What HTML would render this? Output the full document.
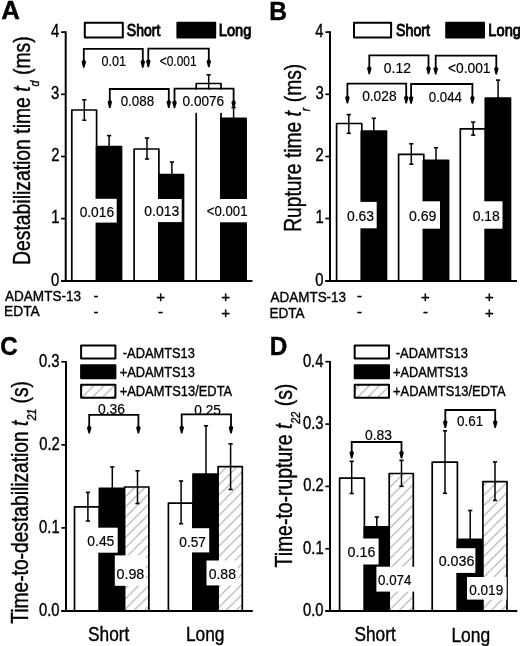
<!DOCTYPE html>
<html><head><meta charset="utf-8"><style>html,body{margin:0;padding:0;background:#fff;width:520px;height:646px;overflow:hidden}svg{display:block;filter:grayscale(1)}</style></head>
<body><svg width="520" height="646" viewBox="0 0 520 646">
<defs><pattern id="hatch" patternUnits="userSpaceOnUse" width="10.2" height="10.2"><rect width="10.2" height="10.2" fill="#fff"/><path d="M-1,11.2 L11.2,-1 M-1,1 L1,-1 M9.2,11.2 L11.2,9.2" stroke="#a4a4a4" stroke-width="1"/></pattern></defs>
<rect width="520" height="646" fill="#fff"/>
<g font-family="Liberation Sans, sans-serif" stroke="#000" stroke-width="0.4">
<text transform="translate(1.35,19) scale(1.030,1)" font-size="25.07" font-weight="bold" fill="#000" >A</text>
<rect x="71.8" y="110" width="24.8" height="170.9" fill="#fff" stroke="#000" stroke-width="1.7" stroke-linejoin="round"/>
<rect x="96.6" y="146.6" width="24.9" height="134.3" fill="#000" stroke="#000" stroke-width="1.7" stroke-linejoin="round"/>
<rect x="134.1" y="149" width="24.8" height="131.9" fill="#fff" stroke="#000" stroke-width="1.7" stroke-linejoin="round"/>
<rect x="158.9" y="174.6" width="24.6" height="106.3" fill="#000" stroke="#000" stroke-width="1.7" stroke-linejoin="round"/>
<rect x="196.2" y="83.5" width="24.8" height="197.4" fill="#fff" stroke="#000" stroke-width="1.7" stroke-linejoin="round"/>
<rect x="221" y="118.4" width="25.1" height="162.5" fill="#000" stroke="#000" stroke-width="1.7" stroke-linejoin="round"/>
<line x1="84.3" y1="99.8" x2="84.3" y2="120.2" stroke="#000" stroke-width="1.5"/>
<line x1="82.2" y1="99.8" x2="86.4" y2="99.8" stroke="#000" stroke-width="1.6"/>
<line x1="82.2" y1="120.2" x2="86.4" y2="120.2" stroke="#000" stroke-width="1.6"/>
<line x1="109.1" y1="135.6" x2="109.1" y2="157" stroke="#000" stroke-width="1.5"/>
<line x1="107" y1="135.6" x2="111.2" y2="135.6" stroke="#000" stroke-width="1.6"/>
<line x1="107" y1="157" x2="111.2" y2="157" stroke="#000" stroke-width="1.6"/>
<line x1="147" y1="138" x2="147" y2="159" stroke="#000" stroke-width="1.5"/>
<line x1="144.9" y1="138" x2="149.1" y2="138" stroke="#000" stroke-width="1.6"/>
<line x1="144.9" y1="159" x2="149.1" y2="159" stroke="#000" stroke-width="1.6"/>
<line x1="171.9" y1="162" x2="171.9" y2="186" stroke="#000" stroke-width="1.5"/>
<line x1="169.8" y1="162" x2="174" y2="162" stroke="#000" stroke-width="1.6"/>
<line x1="169.8" y1="186" x2="174" y2="186" stroke="#000" stroke-width="1.6"/>
<line x1="208.7" y1="74.8" x2="208.7" y2="92" stroke="#000" stroke-width="1.5"/>
<line x1="206.6" y1="74.8" x2="210.8" y2="74.8" stroke="#000" stroke-width="1.6"/>
<line x1="206.6" y1="92" x2="210.8" y2="92" stroke="#000" stroke-width="1.6"/>
<line x1="233.6" y1="107.5" x2="233.6" y2="130" stroke="#000" stroke-width="1.5"/>
<line x1="231.5" y1="107.5" x2="235.7" y2="107.5" stroke="#000" stroke-width="1.6"/>
<line x1="231.5" y1="130" x2="235.7" y2="130" stroke="#000" stroke-width="1.6"/>
<rect x="95" y="198.8" width="21.7" height="23.8" fill="#fff" stroke="none"/>
<text transform="translate(79.65,216.8) scale(0.917,1)" font-size="15.00" font-weight="normal" fill="#000" stroke-width="0.2">0.016</text>
<rect x="157.7" y="199" width="24" height="23.1" fill="#fff" stroke="none"/>
<text transform="translate(144.24,216.1) scale(0.931,1)" font-size="15.00" font-weight="normal" fill="#000" stroke-width="0.2">0.013</text>
<rect x="219.8" y="199" width="28.2" height="23.3" fill="#fff" stroke="none"/>
<text transform="translate(206.84,216.3) scale(0.878,1)" font-size="15.00" font-weight="normal" fill="#000" stroke-width="0.2">&lt;0.001</text>
<path d="M83.8,63.7 L83.8,48.9 L142.8,48.9 L142.8,63.7" fill="none" stroke="#000" stroke-width="1.8"/>
<path d="M83.8,59.3 L86.1,61.5 L84.5,67.7 L83.1,67.7 L81.5,61.5 Z" fill="#000" stroke="none"/>
<path d="M142.8,59.3 L145.1,61.5 L143.5,67.7 L142.1,67.7 L140.5,61.5 Z" fill="#000" stroke="none"/>
<text transform="translate(101.5,65.7) scale(0.839,1)" font-size="15.00" font-weight="normal" fill="#000" stroke-width="0.2">0.01</text>
<path d="M148.3,63.2 L148.3,48.7 L208.8,48.7 L208.8,63.2" fill="none" stroke="#000" stroke-width="1.8"/>
<path d="M148.3,58.8 L150.6,61 L149,67.2 L147.6,67.2 L146,61 Z" fill="#000" stroke="none"/>
<path d="M208.8,58.8 L211.1,61 L209.5,67.2 L208.1,67.2 L206.5,61 Z" fill="#000" stroke="none"/>
<text transform="translate(159.7,65.8) scale(0.798,1)" font-size="15.00" font-weight="normal" fill="#000" stroke-width="0.2">&lt;0.001</text>
<path d="M109.8,103.9 L109.8,89 L168.8,89 L168.8,103.9" fill="none" stroke="#000" stroke-width="1.8"/>
<path d="M109.8,99.5 L112.1,101.7 L110.5,107.9 L109.1,107.9 L107.5,101.7 Z" fill="#000" stroke="none"/>
<path d="M168.8,99.5 L171.1,101.7 L169.5,107.9 L168.1,107.9 L166.5,101.7 Z" fill="#000" stroke="none"/>
<text transform="translate(120.67,106.4) scale(0.890,1)" font-size="15.00" font-weight="normal" fill="#000" stroke-width="0.2">0.088</text>
<rect x="180" y="89.6" width="47" height="23.3" fill="#fff" stroke="none"/>
<path d="M174.5,104.2 L174.5,88.7 L233.6,88.7 L233.6,104.2" fill="none" stroke="#000" stroke-width="1.8"/>
<path d="M174.5,99.8 L176.8,102 L175.2,108.2 L173.8,108.2 L172.2,102 Z" fill="#000" stroke="none"/>
<path d="M233.6,99.8 L235.9,102 L234.3,108.2 L232.9,108.2 L231.3,102 Z" fill="#000" stroke="none"/>
<text transform="translate(182.56,106.3) scale(0.906,1)" font-size="15.00" font-weight="normal" fill="#000" stroke-width="0.2">0.0076</text>
<rect x="84.8" y="22.7" width="38" height="14.9" fill="#fff" stroke="#000" stroke-width="2" stroke-linejoin="round"/>
<text transform="translate(126.87,36.26) scale(0.849,1)" font-size="16.50" font-weight="normal" fill="#000" stroke-width="0.9">Short</text>
<rect x="177.4" y="22.7" width="37.8" height="14.9" fill="#000" stroke="#000" stroke-width="2" stroke-linejoin="round"/>
<text transform="translate(218.73,35.88) scale(0.889,1)" font-size="16.50" font-weight="normal" fill="#000" stroke-width="0.9">Long</text>
<line x1="65.7" y1="31.3" x2="65.7" y2="281.9" stroke="#000" stroke-width="2"/>
<line x1="61.1" y1="280.9" x2="252.5" y2="280.9" stroke="#000" stroke-width="2"/>
<line x1="61.1" y1="280.9" x2="65.7" y2="280.9" stroke="#000" stroke-width="1.7"/>
<text transform="translate(51.01,285.77) scale(0.840,1)" font-size="17.60" font-weight="normal" fill="#000" >0</text>
<line x1="61.1" y1="218.6" x2="65.7" y2="218.6" stroke="#000" stroke-width="1.7"/>
<text transform="translate(51.16,223.47) scale(0.840,1)" font-size="17.60" font-weight="normal" fill="#000" >1</text>
<line x1="61.1" y1="156.5" x2="65.7" y2="156.5" stroke="#000" stroke-width="1.7"/>
<text transform="translate(51.23,161.46) scale(0.840,1)" font-size="17.60" font-weight="normal" fill="#000" >2</text>
<line x1="61.1" y1="94.3" x2="65.7" y2="94.3" stroke="#000" stroke-width="1.7"/>
<text transform="translate(51.09,99.17) scale(0.840,1)" font-size="17.60" font-weight="normal" fill="#000" >3</text>
<line x1="61.1" y1="32.1" x2="65.7" y2="32.1" stroke="#000" stroke-width="1.7"/>
<text transform="translate(50.94,36.97) scale(0.840,1)" font-size="17.60" font-weight="normal" fill="#000" >4</text>
<text transform="translate(5,301.3) scale(0.904,1)" font-size="15.00" font-weight="normal" fill="#000" >ADAMTS-13</text>
<text transform="translate(4.1,316.15) scale(0.919,1)" font-size="15.00" font-weight="normal" fill="#000" >EDTA</text>
<text transform="translate(93.59,301.07) scale(1.000,1)" font-size="15.00" font-weight="normal" fill="#000" >-</text>
<text transform="translate(93.59,316.97) scale(1.000,1)" font-size="15.00" font-weight="normal" fill="#000" >-</text>
<text transform="translate(156.21,302.12) scale(1.000,1)" font-size="15.00" font-weight="normal" fill="#000" >+</text>
<text transform="translate(158.09,316.97) scale(1.000,1)" font-size="15.00" font-weight="normal" fill="#000" >-</text>
<text transform="translate(221.21,302.12) scale(1.000,1)" font-size="15.00" font-weight="normal" fill="#000" >+</text>
<text transform="translate(221.21,318.02) scale(1.000,1)" font-size="15.00" font-weight="normal" fill="#000" >+</text>
<text transform="translate(29.6,265) rotate(-90) scale(0.8245,1)" font-size="23.5">Destabilization time <tspan font-style="italic">t</tspan><tspan font-size="13" dy="9" font-style="italic">d</tspan><tspan dy="-9"> (ms)</tspan></text>
<text transform="translate(269.2,19.6) scale(0.964,1)" font-size="25.51" font-weight="bold" fill="#000" >B</text>
<rect x="336.6" y="123.5" width="25.2" height="157.4" fill="#fff" stroke="#000" stroke-width="1.7" stroke-linejoin="round"/>
<rect x="361.3" y="131" width="25.2" height="149.9" fill="#000" stroke="#000" stroke-width="1.7" stroke-linejoin="round"/>
<rect x="398.6" y="154.3" width="25.2" height="126.6" fill="#fff" stroke="#000" stroke-width="1.7" stroke-linejoin="round"/>
<rect x="423.4" y="160.3" width="25.2" height="120.6" fill="#000" stroke="#000" stroke-width="1.7" stroke-linejoin="round"/>
<rect x="460.3" y="128.9" width="25.2" height="152" fill="#fff" stroke="#000" stroke-width="1.7" stroke-linejoin="round"/>
<rect x="485.3" y="98" width="25.2" height="182.9" fill="#000" stroke="#000" stroke-width="1.7" stroke-linejoin="round"/>
<line x1="348.8" y1="114.6" x2="348.8" y2="133.3" stroke="#000" stroke-width="1.5"/>
<line x1="346.7" y1="114.6" x2="350.9" y2="114.6" stroke="#000" stroke-width="1.6"/>
<line x1="346.7" y1="133.3" x2="350.9" y2="133.3" stroke="#000" stroke-width="1.6"/>
<line x1="373.8" y1="118.3" x2="373.8" y2="144" stroke="#000" stroke-width="1.5"/>
<line x1="371.7" y1="118.3" x2="375.9" y2="118.3" stroke="#000" stroke-width="1.6"/>
<line x1="371.7" y1="144" x2="375.9" y2="144" stroke="#000" stroke-width="1.6"/>
<line x1="411.3" y1="143.8" x2="411.3" y2="164.2" stroke="#000" stroke-width="1.5"/>
<line x1="409.2" y1="143.8" x2="413.4" y2="143.8" stroke="#000" stroke-width="1.6"/>
<line x1="409.2" y1="164.2" x2="413.4" y2="164.2" stroke="#000" stroke-width="1.6"/>
<line x1="436" y1="147.7" x2="436" y2="173" stroke="#000" stroke-width="1.5"/>
<line x1="433.9" y1="147.7" x2="438.1" y2="147.7" stroke="#000" stroke-width="1.6"/>
<line x1="433.9" y1="173" x2="438.1" y2="173" stroke="#000" stroke-width="1.6"/>
<line x1="473.2" y1="122.1" x2="473.2" y2="135.1" stroke="#000" stroke-width="1.5"/>
<line x1="471.1" y1="122.1" x2="475.3" y2="122.1" stroke="#000" stroke-width="1.6"/>
<line x1="471.1" y1="135.1" x2="475.3" y2="135.1" stroke="#000" stroke-width="1.6"/>
<line x1="498.1" y1="80.1" x2="498.1" y2="116" stroke="#000" stroke-width="1.5"/>
<line x1="496" y1="80.1" x2="500.2" y2="80.1" stroke="#000" stroke-width="1.6"/>
<line x1="496" y1="116" x2="500.2" y2="116" stroke="#000" stroke-width="1.6"/>
<rect x="359.6" y="201.9" width="17.1" height="26.4" fill="#fff" stroke="none"/>
<text transform="translate(346.94,221.1) scale(0.929,1)" font-size="15.00" font-weight="normal" fill="#000" stroke-width="0.2">0.63</text>
<rect x="421.7" y="201.3" width="18.3" height="27.4" fill="#fff" stroke="none"/>
<text transform="translate(408.94,220.8) scale(0.941,1)" font-size="15.00" font-weight="normal" fill="#000" stroke-width="0.2">0.69</text>
<rect x="484" y="201.3" width="18.5" height="27.4" fill="#fff" stroke="none"/>
<text transform="translate(472.69,220.8) scale(0.929,1)" font-size="15.00" font-weight="normal" fill="#000" stroke-width="0.2">0.18</text>
<path d="M369.3,70.2 L369.3,55.4 L428.5,55.4 L428.5,70.2" fill="none" stroke="#000" stroke-width="1.8"/>
<path d="M369.3,65.8 L371.6,68 L370,74.2 L368.6,74.2 L367,68 Z" fill="#000" stroke="none"/>
<path d="M428.5,65.8 L430.8,68 L429.2,74.2 L427.8,74.2 L426.2,68 Z" fill="#000" stroke="none"/>
<text transform="translate(383.74,73) scale(0.931,1)" font-size="15.00" font-weight="normal" fill="#000" stroke-width="0.2">0.12</text>
<path d="M435.7,70.6 L435.7,55.6 L496.3,55.6 L496.3,70.6" fill="none" stroke="#000" stroke-width="1.8"/>
<path d="M435.7,66.2 L438,68.4 L436.4,74.6 L435,74.6 L433.4,68.4 Z" fill="#000" stroke="none"/>
<path d="M496.3,66.2 L498.6,68.4 L497,74.6 L495.6,74.6 L494,68.4 Z" fill="#000" stroke="none"/>
<text transform="translate(448.01,73.1) scale(0.919,1)" font-size="15.00" font-weight="normal" fill="#000" stroke-width="0.2">&lt;0.001</text>
<path d="M347.4,99.5 L347.4,83.6 L406.2,83.6 L406.2,99.5" fill="none" stroke="#000" stroke-width="1.8"/>
<path d="M347.4,95.1 L349.7,97.3 L348.1,103.5 L346.7,103.5 L345.1,97.3 Z" fill="#000" stroke="none"/>
<path d="M406.2,95.1 L408.5,97.3 L406.9,103.5 L405.5,103.5 L403.9,97.3 Z" fill="#000" stroke="none"/>
<text transform="translate(362.15,101.1) scale(0.917,1)" font-size="15.00" font-weight="normal" fill="#000" stroke-width="0.2">0.028</text>
<path d="M411.1,99.7 L411.1,84 L472.4,84 L472.4,99.7" fill="none" stroke="#000" stroke-width="1.8"/>
<path d="M411.1,95.3 L413.4,97.5 L411.8,103.7 L410.4,103.7 L408.8,97.5 Z" fill="#000" stroke="none"/>
<path d="M472.4,95.3 L474.7,97.5 L473.1,103.7 L471.7,103.7 L470.1,97.5 Z" fill="#000" stroke="none"/>
<text transform="translate(428.77,101.5) scale(0.886,1)" font-size="15.00" font-weight="normal" fill="#000" stroke-width="0.2">0.044</text>
<rect x="354" y="22.7" width="37.1" height="14.9" fill="#fff" stroke="#000" stroke-width="2" stroke-linejoin="round"/>
<text transform="translate(396.06,36.26) scale(0.859,1)" font-size="16.50" font-weight="normal" fill="#000" stroke-width="0.9">Short</text>
<rect x="446.2" y="22.7" width="37.8" height="14.9" fill="#000" stroke="#000" stroke-width="2" stroke-linejoin="round"/>
<text transform="translate(488.33,35.88) scale(0.889,1)" font-size="16.50" font-weight="normal" fill="#000" stroke-width="0.9">Long</text>
<line x1="330" y1="31.3" x2="330" y2="281.9" stroke="#000" stroke-width="2"/>
<line x1="325.4" y1="280.9" x2="517" y2="280.9" stroke="#000" stroke-width="2"/>
<line x1="325.4" y1="280.9" x2="330" y2="280.9" stroke="#000" stroke-width="1.7"/>
<text transform="translate(315.31,285.77) scale(0.840,1)" font-size="17.60" font-weight="normal" fill="#000" >0</text>
<line x1="325.4" y1="218.5" x2="330" y2="218.5" stroke="#000" stroke-width="1.7"/>
<text transform="translate(315.46,223.37) scale(0.840,1)" font-size="17.60" font-weight="normal" fill="#000" >1</text>
<line x1="325.4" y1="156.5" x2="330" y2="156.5" stroke="#000" stroke-width="1.7"/>
<text transform="translate(315.53,161.46) scale(0.840,1)" font-size="17.60" font-weight="normal" fill="#000" >2</text>
<line x1="325.4" y1="94.3" x2="330" y2="94.3" stroke="#000" stroke-width="1.7"/>
<text transform="translate(315.39,99.17) scale(0.840,1)" font-size="17.60" font-weight="normal" fill="#000" >3</text>
<line x1="325.4" y1="32.1" x2="330" y2="32.1" stroke="#000" stroke-width="1.7"/>
<text transform="translate(315.24,36.97) scale(0.840,1)" font-size="17.60" font-weight="normal" fill="#000" >4</text>
<text transform="translate(270.5,301.7) scale(0.898,1)" font-size="15.00" font-weight="normal" fill="#000" >ADAMTS-13</text>
<text transform="translate(269.42,317.55) scale(0.903,1)" font-size="15.00" font-weight="normal" fill="#000" >EDTA</text>
<text transform="translate(357.09,301.07) scale(1.000,1)" font-size="15.00" font-weight="normal" fill="#000" >-</text>
<text transform="translate(357.09,316.97) scale(1.000,1)" font-size="15.00" font-weight="normal" fill="#000" >-</text>
<text transform="translate(421.01,302.12) scale(1.000,1)" font-size="15.00" font-weight="normal" fill="#000" >+</text>
<text transform="translate(422.89,316.97) scale(1.000,1)" font-size="15.00" font-weight="normal" fill="#000" >-</text>
<text transform="translate(485.01,302.12) scale(1.000,1)" font-size="15.00" font-weight="normal" fill="#000" >+</text>
<text transform="translate(485.01,318.02) scale(1.000,1)" font-size="15.00" font-weight="normal" fill="#000" >+</text>
<text transform="translate(301.3,231.8) rotate(-90) scale(0.8180,1)" font-size="23.5">Rupture time <tspan font-style="italic">t</tspan><tspan font-size="13" dy="9" font-style="italic">r</tspan><tspan dy="-9"> (ms)</tspan></text>
<text transform="translate(0.24,355.24) scale(0.941,1)" font-size="25.63" font-weight="bold" fill="#000" >C</text>
<rect x="74.5" y="506.9" width="24.9" height="104" fill="#fff" stroke="#000" stroke-width="1.7" stroke-linejoin="round"/>
<rect x="99.4" y="488.4" width="25.2" height="122.5" fill="#000" stroke="#000" stroke-width="1.7" stroke-linejoin="round"/>
<rect x="124.6" y="487" width="24.3" height="123.9" fill="url(#hatch)" stroke="#000" stroke-width="1.7" stroke-linejoin="round"/>
<rect x="168.4" y="503.2" width="24.6" height="107.7" fill="#fff" stroke="#000" stroke-width="1.7" stroke-linejoin="round"/>
<rect x="193" y="474" width="25.1" height="136.9" fill="#000" stroke="#000" stroke-width="1.7" stroke-linejoin="round"/>
<rect x="218.1" y="466.6" width="24.2" height="144.3" fill="url(#hatch)" stroke="#000" stroke-width="1.7" stroke-linejoin="round"/>
<line x1="87.9" y1="492.4" x2="87.9" y2="521" stroke="#000" stroke-width="1.5"/>
<line x1="85.8" y1="492.4" x2="90" y2="492.4" stroke="#000" stroke-width="1.6"/>
<line x1="85.8" y1="521" x2="90" y2="521" stroke="#000" stroke-width="1.6"/>
<line x1="112.3" y1="466.9" x2="112.3" y2="509" stroke="#000" stroke-width="1.5"/>
<line x1="110.2" y1="466.9" x2="114.4" y2="466.9" stroke="#000" stroke-width="1.6"/>
<line x1="110.2" y1="509" x2="114.4" y2="509" stroke="#000" stroke-width="1.6"/>
<line x1="137.5" y1="470.8" x2="137.5" y2="503.5" stroke="#000" stroke-width="1.5"/>
<line x1="135.4" y1="470.8" x2="139.6" y2="470.8" stroke="#000" stroke-width="1.6"/>
<line x1="135.4" y1="503.5" x2="139.6" y2="503.5" stroke="#000" stroke-width="1.6"/>
<line x1="181.1" y1="481" x2="181.1" y2="523.7" stroke="#000" stroke-width="1.5"/>
<line x1="179" y1="481" x2="183.2" y2="481" stroke="#000" stroke-width="1.6"/>
<line x1="179" y1="523.7" x2="183.2" y2="523.7" stroke="#000" stroke-width="1.6"/>
<line x1="206" y1="425.8" x2="206" y2="521" stroke="#000" stroke-width="1.5"/>
<line x1="203.9" y1="425.8" x2="208.1" y2="425.8" stroke="#000" stroke-width="1.6"/>
<line x1="203.9" y1="521" x2="208.1" y2="521" stroke="#000" stroke-width="1.6"/>
<line x1="230.6" y1="443.8" x2="230.6" y2="489.5" stroke="#000" stroke-width="1.5"/>
<line x1="228.5" y1="443.8" x2="232.7" y2="443.8" stroke="#000" stroke-width="1.6"/>
<line x1="228.5" y1="489.5" x2="232.7" y2="489.5" stroke="#000" stroke-width="1.6"/>
<rect x="97.7" y="527.7" width="20" height="25" fill="#fff" stroke="none"/>
<text transform="translate(87.34,545.9) scale(0.926,1)" font-size="15.00" font-weight="normal" fill="#000" stroke-width="0.2">0.45</text>
<rect x="114.8" y="555.4" width="31.2" height="30.4" fill="#fff" stroke="none"/>
<text transform="translate(116.53,578.7) scale(0.951,1)" font-size="15.00" font-weight="normal" fill="#000" stroke-width="0.2">0.98</text>
<rect x="191.3" y="528.2" width="17.9" height="24.2" fill="#fff" stroke="none"/>
<text transform="translate(179.25,546.5) scale(0.916,1)" font-size="15.00" font-weight="normal" fill="#000" stroke-width="0.2">0.57</text>
<rect x="206.5" y="560.5" width="31.5" height="24.9" fill="#fff" stroke="none"/>
<text transform="translate(208.64,579.2) scale(0.937,1)" font-size="15.00" font-weight="normal" fill="#000" stroke-width="0.2">0.88</text>
<path d="M89.2,429.6 L89.2,414.8 L138.4,414.8 L138.4,429.6" fill="none" stroke="#000" stroke-width="1.8"/>
<path d="M89.2,425.2 L91.5,427.4 L89.9,433.6 L88.5,433.6 L86.9,427.4 Z" fill="#000" stroke="none"/>
<path d="M138.4,425.2 L140.7,427.4 L139.1,433.6 L137.7,433.6 L136.1,427.4 Z" fill="#000" stroke="none"/>
<text transform="translate(97.94,414.2) scale(0.926,1)" font-size="15.00" font-weight="normal" fill="#000" stroke-width="0.2">0.36</text>
<path d="M181.7,429.4 L181.7,414.4 L231,414.4 L231,429.4" fill="none" stroke="#000" stroke-width="1.8"/>
<path d="M181.7,425 L184,427.2 L182.4,433.4 L181,433.4 L179.4,427.2 Z" fill="#000" stroke="none"/>
<path d="M231,425 L233.3,427.2 L231.7,433.4 L230.3,433.4 L228.7,427.2 Z" fill="#000" stroke="none"/>
<text transform="translate(194.25,414.7) scale(0.915,1)" font-size="15.00" font-weight="normal" fill="#000" stroke-width="0.2">0.25</text>
<rect x="81.1" y="345.6" width="34.3" height="13" fill="#fff" stroke="#000" stroke-width="2" stroke-linejoin="round"/>
<text transform="translate(122.82,357.8) scale(0.856,1)" font-size="15.00" font-weight="normal" fill="#000" >-ADAMTS13</text>
<rect x="81.1" y="365.2" width="34.3" height="13" fill="#000" stroke="#000" stroke-width="2" stroke-linejoin="round"/>
<text transform="translate(119.66,377.2) scale(0.855,1)" font-size="15.00" font-weight="normal" fill="#000" >+ADAMTS13</text>
<rect x="81.1" y="384.8" width="34.3" height="13" fill="url(#hatch)" stroke="#000" stroke-width="2" stroke-linejoin="round"/>
<text transform="translate(119.65,396.07) scale(0.860,1)" font-size="15.00" font-weight="normal" fill="#000" >+ADAMTS13/EDTA</text>
<line x1="66" y1="361" x2="66" y2="611.9" stroke="#000" stroke-width="2"/>
<line x1="61.4" y1="610.9" x2="252.8" y2="610.9" stroke="#000" stroke-width="2"/>
<line x1="61.4" y1="610.9" x2="66" y2="610.9" stroke="#000" stroke-width="1.7"/>
<text transform="translate(38.97,615.77) scale(0.840,1)" font-size="17.60" font-weight="normal" fill="#000" >0.0</text>
<line x1="61.4" y1="527.9" x2="66" y2="527.9" stroke="#000" stroke-width="1.7"/>
<text transform="translate(39.12,532.77) scale(0.840,1)" font-size="17.60" font-weight="normal" fill="#000" >0.1</text>
<line x1="61.4" y1="444.9" x2="66" y2="444.9" stroke="#000" stroke-width="1.7"/>
<text transform="translate(39.19,449.77) scale(0.840,1)" font-size="17.60" font-weight="normal" fill="#000" >0.2</text>
<line x1="61.4" y1="361.8" x2="66" y2="361.8" stroke="#000" stroke-width="1.7"/>
<text transform="translate(39.04,366.67) scale(0.840,1)" font-size="17.60" font-weight="normal" fill="#000" >0.3</text>
<text transform="translate(88.02,641) scale(0.865,1)" font-size="20.00" font-weight="normal" fill="#000" >Short</text>
<text transform="translate(185.91,641.4) scale(0.868,1)" font-size="20.00" font-weight="normal" fill="#000" >Long</text>
<text transform="translate(27.8,623.8) rotate(-90) scale(0.8181,1)" font-size="23.5">Time-to-destabilization <tspan font-style="italic">t</tspan><tspan font-size="13" dy="8" font-style="italic">21</tspan><tspan dy="-8"> (s)</tspan></text>
<text transform="translate(269.71,355.4) scale(0.925,1)" font-size="26.38" font-weight="bold" fill="#000" >D</text>
<rect x="339.6" y="478.1" width="24.8" height="132.8" fill="#fff" stroke="#000" stroke-width="1.7" stroke-linejoin="round"/>
<rect x="364.4" y="526.9" width="24.8" height="84" fill="#000" stroke="#000" stroke-width="1.7" stroke-linejoin="round"/>
<rect x="389.2" y="473.5" width="24.1" height="137.4" fill="url(#hatch)" stroke="#000" stroke-width="1.7" stroke-linejoin="round"/>
<rect x="432.2" y="462.1" width="25.2" height="148.8" fill="#fff" stroke="#000" stroke-width="1.7" stroke-linejoin="round"/>
<rect x="457.4" y="539.3" width="25.5" height="71.6" fill="#000" stroke="#000" stroke-width="1.7" stroke-linejoin="round"/>
<rect x="482.9" y="481.7" width="24.1" height="129.2" fill="url(#hatch)" stroke="#000" stroke-width="1.7" stroke-linejoin="round"/>
<line x1="351.7" y1="461.3" x2="351.7" y2="493.5" stroke="#000" stroke-width="1.5"/>
<line x1="349.6" y1="461.3" x2="353.8" y2="461.3" stroke="#000" stroke-width="1.6"/>
<line x1="349.6" y1="493.5" x2="353.8" y2="493.5" stroke="#000" stroke-width="1.6"/>
<line x1="376.8" y1="517" x2="376.8" y2="536" stroke="#000" stroke-width="1.5"/>
<line x1="374.7" y1="517" x2="378.9" y2="517" stroke="#000" stroke-width="1.6"/>
<line x1="374.7" y1="536" x2="378.9" y2="536" stroke="#000" stroke-width="1.6"/>
<line x1="401.5" y1="460.4" x2="401.5" y2="486.3" stroke="#000" stroke-width="1.5"/>
<line x1="399.4" y1="460.4" x2="403.6" y2="460.4" stroke="#000" stroke-width="1.6"/>
<line x1="399.4" y1="486.3" x2="403.6" y2="486.3" stroke="#000" stroke-width="1.6"/>
<line x1="445" y1="430.8" x2="445" y2="493.3" stroke="#000" stroke-width="1.5"/>
<line x1="442.9" y1="430.8" x2="447.1" y2="430.8" stroke="#000" stroke-width="1.6"/>
<line x1="442.9" y1="493.3" x2="447.1" y2="493.3" stroke="#000" stroke-width="1.6"/>
<line x1="470.2" y1="510.5" x2="470.2" y2="567" stroke="#000" stroke-width="1.5"/>
<line x1="468.1" y1="510.5" x2="472.3" y2="510.5" stroke="#000" stroke-width="1.6"/>
<line x1="468.1" y1="567" x2="472.3" y2="567" stroke="#000" stroke-width="1.6"/>
<line x1="495" y1="461.9" x2="495" y2="500.4" stroke="#000" stroke-width="1.5"/>
<line x1="492.9" y1="461.9" x2="497.1" y2="461.9" stroke="#000" stroke-width="1.6"/>
<line x1="492.9" y1="500.4" x2="497.1" y2="500.4" stroke="#000" stroke-width="1.6"/>
<rect x="362.7" y="538.5" width="15.9" height="26" fill="#fff" stroke="none"/>
<text transform="translate(347.53,556.9) scale(0.954,1)" font-size="15.00" font-weight="normal" fill="#000" stroke-width="0.2">0.16</text>
<rect x="376.4" y="566.7" width="38.6" height="24.9" fill="#fff" stroke="none"/>
<text transform="translate(378.07,585.3) scale(0.889,1)" font-size="15.00" font-weight="normal" fill="#000" stroke-width="0.2">0.074</text>
<rect x="455.8" y="548.2" width="19.6" height="24.7" fill="#fff" stroke="none"/>
<text transform="translate(438.63,566.1) scale(0.953,1)" font-size="15.00" font-weight="normal" fill="#000" stroke-width="0.2">0.036</text>
<rect x="467" y="577" width="39.6" height="22.6" fill="#fff" stroke="none"/>
<text transform="translate(469.26,594.6) scale(0.905,1)" font-size="15.00" font-weight="normal" fill="#000" stroke-width="0.2">0.019</text>
<path d="M351.7,454.6 L351.7,442 L401.5,442 L401.5,454.6" fill="none" stroke="#000" stroke-width="1.8"/>
<path d="M351.7,450.2 L354,452.4 L352.4,458.6 L351,458.6 L349.4,452.4 Z" fill="#000" stroke="none"/>
<path d="M401.5,450.2 L403.8,452.4 L402.2,458.6 L400.8,458.6 L399.2,452.4 Z" fill="#000" stroke="none"/>
<text transform="translate(365.04,439.8) scale(0.926,1)" font-size="15.00" font-weight="normal" fill="#000" stroke-width="0.2">0.83</text>
<path d="M445.3,424 L445.3,410 L495.2,410 L495.2,424" fill="none" stroke="#000" stroke-width="1.8"/>
<path d="M445.3,419.6 L447.6,421.8 L446,428 L444.6,428 L443,421.8 Z" fill="#000" stroke="none"/>
<path d="M495.2,419.6 L497.5,421.8 L495.9,428 L494.5,428 L492.9,421.8 Z" fill="#000" stroke="none"/>
<text transform="translate(456.96,426) scale(0.896,1)" font-size="15.00" font-weight="normal" fill="#000" stroke-width="0.2">0.61</text>
<rect x="354.7" y="345.6" width="34.3" height="13" fill="#fff" stroke="#000" stroke-width="2" stroke-linejoin="round"/>
<text transform="translate(395.82,357.8) scale(0.856,1)" font-size="15.00" font-weight="normal" fill="#000" >-ADAMTS13</text>
<rect x="354.7" y="365.2" width="34.3" height="13" fill="#000" stroke="#000" stroke-width="2" stroke-linejoin="round"/>
<text transform="translate(393.06,377.2) scale(0.850,1)" font-size="15.00" font-weight="normal" fill="#000" >+ADAMTS13</text>
<rect x="354.7" y="384.8" width="34.3" height="13" fill="url(#hatch)" stroke="#000" stroke-width="2" stroke-linejoin="round"/>
<text transform="translate(393.06,396.07) scale(0.859,1)" font-size="15.00" font-weight="normal" fill="#000" >+ADAMTS13/EDTA</text>
<line x1="330" y1="360.9" x2="330" y2="611.9" stroke="#000" stroke-width="2"/>
<line x1="325.4" y1="610.9" x2="517.3" y2="610.9" stroke="#000" stroke-width="2"/>
<line x1="325.4" y1="610.9" x2="330" y2="610.9" stroke="#000" stroke-width="1.7"/>
<text transform="translate(302.97,615.77) scale(0.840,1)" font-size="17.60" font-weight="normal" fill="#000" >0.0</text>
<line x1="325.4" y1="548.8" x2="330" y2="548.8" stroke="#000" stroke-width="1.7"/>
<text transform="translate(303.12,553.67) scale(0.840,1)" font-size="17.60" font-weight="normal" fill="#000" >0.1</text>
<line x1="325.4" y1="486.4" x2="330" y2="486.4" stroke="#000" stroke-width="1.7"/>
<text transform="translate(303.19,491.27) scale(0.840,1)" font-size="17.60" font-weight="normal" fill="#000" >0.2</text>
<line x1="325.4" y1="424.1" x2="330" y2="424.1" stroke="#000" stroke-width="1.7"/>
<text transform="translate(303.04,428.97) scale(0.840,1)" font-size="17.60" font-weight="normal" fill="#000" >0.3</text>
<line x1="325.4" y1="361.7" x2="330" y2="361.7" stroke="#000" stroke-width="1.7"/>
<text transform="translate(302.89,366.57) scale(0.840,1)" font-size="17.60" font-weight="normal" fill="#000" >0.4</text>
<text transform="translate(354.52,641.2) scale(0.863,1)" font-size="20.00" font-weight="normal" fill="#000" >Short</text>
<text transform="translate(451.41,641.6) scale(0.870,1)" font-size="20.00" font-weight="normal" fill="#000" >Long</text>
<text transform="translate(291.8,567.5) rotate(-90) scale(0.8266,1)" font-size="23.5">Time-to-rupture <tspan font-style="italic">t</tspan><tspan font-size="13" dy="8" font-style="italic">22</tspan><tspan dy="-8"> (s)</tspan></text>
</g></svg></body></html>
